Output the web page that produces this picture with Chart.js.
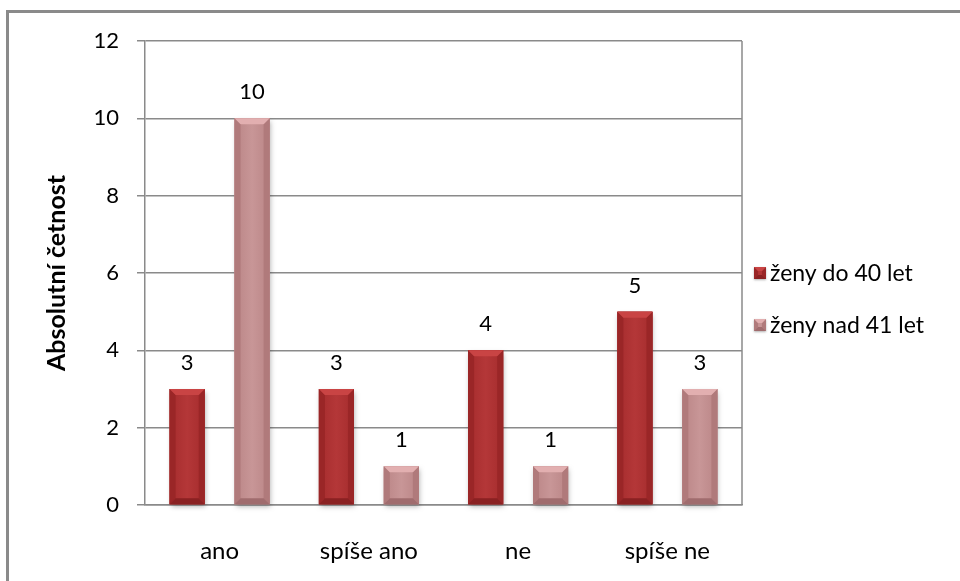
<!DOCTYPE html>
<html>
<head>
<meta charset="utf-8">
<script src="https://cdn.jsdelivr.net/npm/chart.js@4/dist/chart.umd.min.js"></script>
<style>
  html, body { margin: 0; padding: 0; background: #fff; }
  #wrap { position: relative; width: 960px; height: 581px; }
  #frame { position: absolute; left: 6px; top: 10px; right: -10px; bottom: -10px;
    border-top: 3px solid #8a8a8a; border-left: 3px solid #8a8a8a; pointer-events: none; }
  canvas { position: absolute; left: 0; top: 0; }
</style>
</head>
<body>
<div id="wrap">
  <canvas id="chart" width="960" height="581"></canvas>
  <div id="frame"></div>
</div>
<script>
const categories = ['ano', 'spíše ano', 'ne', 'spíše ne']
const seriesNames = ['ženy do 40 let', 'ženy nad 41 let']
const youngValues = [3, 3, 4, 5]
const olderValues = [10, 1, 1, 3]
const yTicks = [0, 2, 4, 6, 8, 10, 12]

const FONT = 'Lato, "Open Sans", sans-serif'

// bevel palettes: body centre, body edge, top, sides, bottom
const palettes = [
  { base: '#b03232', mid: '#b43738', edge: '#a52c2d', top: '#c94444', side: '#9a2627', bottom: '#8a2122' },
  { base: '#c49192', mid: '#c89697', edge: '#ba8586', top: '#e2afb0', side: '#b07a7b', bottom: '#a06c6e' },
]

function bevelBar(ctx, l, t, r, bot, p, b) {
  const w = r - l
  b = Math.min(b, w / 2, (bot - t) / 2)
  const g = ctx.createLinearGradient(l, 0, r, 0)
  g.addColorStop(0, p.edge)
  g.addColorStop(0.5, p.mid)
  g.addColorStop(1, p.edge)
  ctx.fillStyle = g
  ctx.fillRect(l, t, w, bot - t)
  const poly = (pts, c) => {
    ctx.beginPath()
    ctx.moveTo(pts[0][0], pts[0][1])
    for (let i = 1; i < pts.length; i++) ctx.lineTo(pts[i][0], pts[i][1])
    ctx.closePath()
    ctx.fillStyle = c
    ctx.fill()
  }
  poly([[l, t], [l + b, t + b], [l + b, bot - b], [l, bot]], p.side)
  poly([[r, t], [r - b, t + b], [r - b, bot - b], [r, bot]], p.side)
  poly([[l, bot], [l + b, bot - b], [r - b, bot - b], [r, bot]], p.bottom)
  poly([[l, t], [r, t], [r - b, t + b], [l + b, t + b]], p.top)
}

const barLook = {
  id: 'barLook',
  afterDatasetsDraw(chart) {
    const ctx = chart.ctx
    chart.data.datasets.forEach((ds, i) => {
      const meta = chart.getDatasetMeta(i)
      meta.data.forEach((bar) => {
        const l = bar.x - bar.width / 2
        const r = bar.x + bar.width / 2
        ctx.save()
        ctx.shadowColor = 'rgba(0,0,0,0.3)'
        ctx.shadowBlur = 5
        ctx.shadowOffsetX = 1
        ctx.shadowOffsetY = 3
        ctx.fillStyle = palettes[i].base
        ctx.fillRect(l, bar.y, r - l, bar.base - bar.y)
        ctx.restore()
        bevelBar(ctx, l, bar.y, r, bar.base, palettes[i], 6)
      })
    })
    // value labels
    ctx.save()
    ctx.font = '22px ' + FONT
    ctx.fillStyle = '#000'
    ctx.textAlign = 'center'
    ctx.textBaseline = 'alphabetic'
    chart.data.datasets.forEach((ds, i) => {
      chart.getDatasetMeta(i).data.forEach((bar, j) => {
        ctx.fillText(String(ds.data[j]), bar.x, bar.y - 19)
      })
    })
    ctx.restore()
    // right edge of plot area
    const a = chart.chartArea
    ctx.save()
    ctx.strokeStyle = '#8a8a8a'
    ctx.lineWidth = 1.5
    ctx.beginPath()
    ctx.moveTo(a.right, a.top)
    ctx.lineTo(a.right, a.bottom)
    ctx.stroke()
    ctx.restore()
  },
  afterDraw(chart) {
    // legend
    const ctx = chart.ctx
    ctx.save()
    ctx.font = '23px ' + FONT
    ctx.fillStyle = '#000'
    ctx.textBaseline = 'middle'
    chart.data.datasets.forEach((ds, i) => {
      const cy = 273 + i * 52
      ctx.save()
      ctx.shadowColor = 'rgba(0,0,0,0.3)'
      ctx.shadowBlur = 2
      ctx.shadowOffsetY = 1
      ctx.fillStyle = palettes[i].base
      ctx.fillRect(754, cy - 6, 12, 12)
      ctx.restore()
      bevelBar(ctx, 754, cy - 6, 766, cy + 6, palettes[i], 4)
      ctx.fillStyle = '#000'
      ctx.fillText(ds.label, 770, cy + 1)
    })
    ctx.restore()
  },
}

new Chart(document.getElementById('chart').getContext('2d'), {
  type: 'bar',
  data: {
    labels: categories,
    datasets: [
      { label: seriesNames[0], data: youngValues, backgroundColor: palettes[0].base },
      { label: seriesNames[1], data: olderValues, backgroundColor: palettes[1].base },
    ],
  },
  options: {
    responsive: false,
    animation: false,
    layout: { padding: { left: 0, top: 41, right: 218, bottom: 0 } },
    datasets: { bar: { categoryPercentage: 0.87, barPercentage: 0.54 } },
    plugins: { legend: { display: false }, tooltip: { enabled: false } },
    scales: {
      x: {
        grid: { display: false },
        border: { display: true, color: '#8a8a8a', width: 1.5 },
        ticks: { color: '#000', font: { family: FONT, size: 24 }, padding: 24 },
        afterFit(scale) { scale.height = 76 },
      },
      y: {
        min: 0,
        max: 12,
        afterBuildTicks(scale) { scale.ticks = yTicks.map((v) => ({ value: v })) },
        grid: { color: '#8a8a8a', lineWidth: 1.5, tickLength: 8 },
        border: { display: true, color: '#8a8a8a', width: 1.5 },
        ticks: { color: '#000', font: { family: FONT, size: 22 }, padding: 18 },
        title: {
          display: true,
          text: 'Absolutní četnost',
          color: '#000',
          font: { family: FONT, size: 25, weight: 'bold' },
          padding: { top: 42, bottom: 0 },
        },
        afterFit(scale) { scale.width = 145 },
      },
    },
  },
  plugins: [barLook],
})
</script>
</body>
</html>
